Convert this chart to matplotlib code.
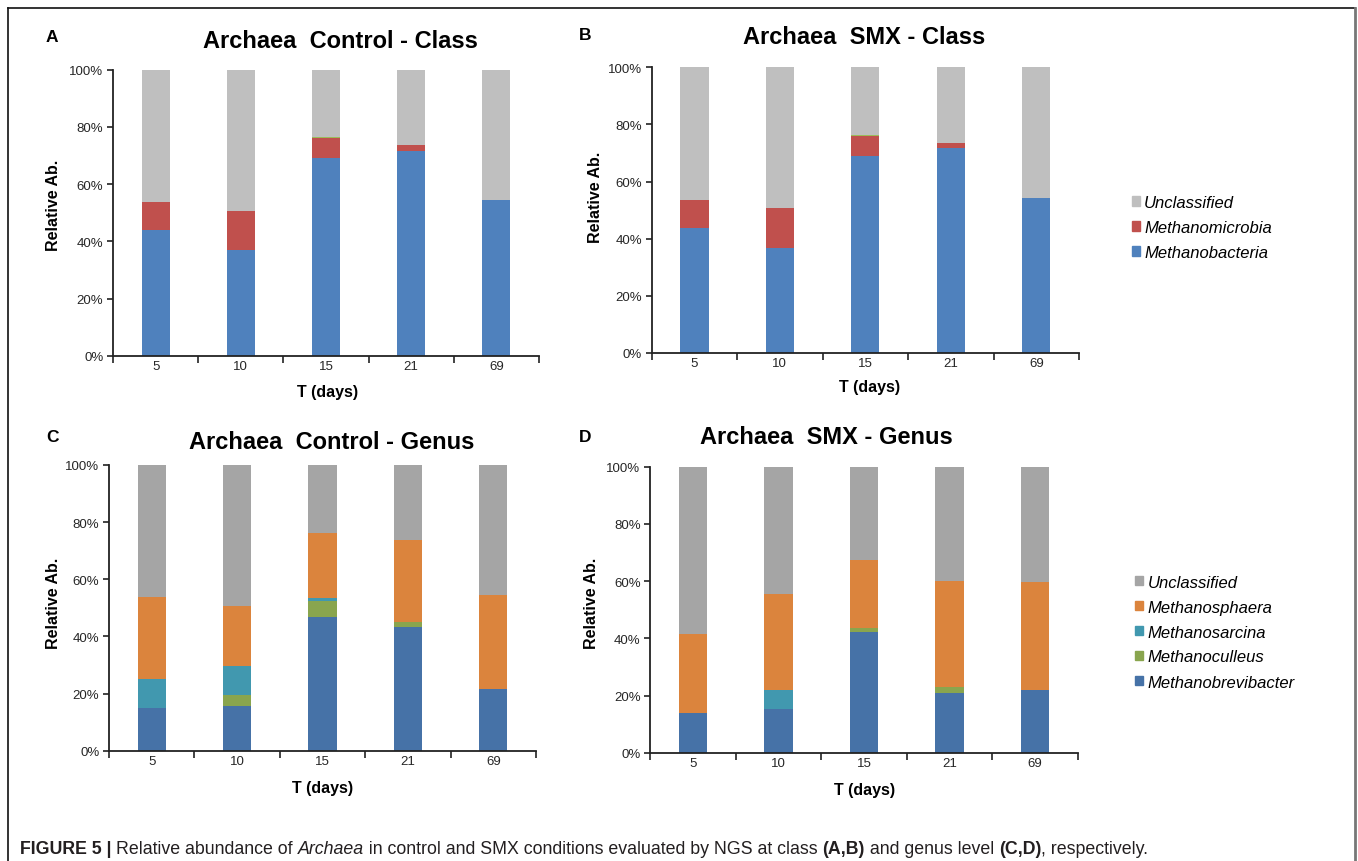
import matplotlib
matplotlib.use('Agg')

import matplotlib.pyplot as plt
from matplotlib.lines import Line2D
from matplotlib.patches import Patch
from matplotlib.ticker import FixedLocator, FuncFormatter
import numpy as np

plt.rcParams['font.family'] = ['Liberation Sans', 'DejaVu Sans']

days = ['5', '10', '15', '21', '69']

# class level (same in control and SMX), % per segment, bottom to top
methanobacteria = [43.8, 36.9, 69.1, 71.7, 54.3]
methanomicrobia = [9.9, 13.7, 6.9, 1.8, 0.0]
class_other = [0.0, 0.0, 0.3, 0.0, 0.0]
class_unclassified = [46.3, 49.4, 23.7, 26.5, 45.7]

# genus level, control
ctrl_methanobrevibacter = [14.9, 15.6, 46.8, 43.3, 21.6]
ctrl_methanoculleus = [0.0, 3.8, 5.5, 1.7, 0.0]
ctrl_methanosarcina = [10.1, 10.2, 1.1, 0.0, 0.0]
ctrl_methanosphaera = [28.8, 21.0, 22.8, 28.6, 32.9]
ctrl_unclassified = [46.2, 49.4, 23.8, 26.4, 45.5]

# genus level, SMX
smx_methanobrevibacter = [13.9, 15.4, 42.1, 21.0, 21.9]
smx_methanoculleus = [0.0, 0.0, 1.5, 2.1, 0.0]
smx_methanosarcina = [0.0, 6.4, 0.0, 0.0, 0.0]
smx_methanosphaera = [27.5, 33.6, 23.8, 36.9, 37.8]
smx_unclassified = [58.6, 44.6, 32.6, 40.0, 40.3]

class_labels = ['Methanobacteria', 'Methanomicrobia', '_other', 'Unclassified']
class_colors = ['#4F81BD', '#C0504D', '#9BBB59', '#BFBFBF']
genus_labels = ['Methanobrevibacter', 'Methanoculleus', 'Methanosarcina',
                'Methanosphaera', 'Unclassified']
genus_colors = ['#4672A7', '#89A54E', '#4198AF', '#DB843D', '#A5A5A5']


def draw_panel(ax, series, colors):
	x = np.arange(1, len(days) + 1)
	bottom = np.zeros(len(days))
	bars = []
	for s, c in zip(series, colors):
		s = np.array(s)
		b = ax.bar(x, s, 0.33, bottom=bottom, color=c, linewidth=0)
		bars.append(b)
		bottom += s
	ax.set_xlim(0.5, len(days) + 0.5)
	ax.set_ylim(0, 100)
	ax.set_yticks([0, 20, 40, 60, 80, 100])
	ax.yaxis.set_major_formatter(FuncFormatter(lambda v, p: '%d%%' % v))
	ax.xaxis.set_major_locator(FixedLocator(np.arange(0.5, len(days) + 1)))
	ax.xaxis.set_minor_locator(FixedLocator(x))
	ax.set_xticklabels([], minor=False)
	ax.set_xticklabels(days, minor=True)
	ax.tick_params(axis='x', which='major', direction='out', length=5, width=1.2, color='#222222')
	ax.tick_params(axis='x', which='minor', length=0, pad=3, labelsize=9.5, labelcolor='#262626')
	ax.tick_params(axis='y', direction='out', length=4, width=1.2, color='#222222',
	               labelsize=9.5, labelcolor='#262626', pad=3)
	for side in ['top', 'right']:
		ax.spines[side].set_visible(False)
	for side in ['left', 'bottom']:
		ax.spines[side].set_linewidth(1.3)
		ax.spines[side].set_color('#222222')
	return bars


W, H = 1358, 862
fig = plt.figure(figsize=(W / 100, H / 100), dpi=100)


def px_axes(l, r, t, b):
	return fig.add_axes([l / W, 1 - b / H, (r - l) / W, (b - t) / H])


axA = px_axes(113, 539, 70.7, 356.7)
axB = px_axes(651.7, 1079, 68.3, 354)
axC = px_axes(109, 536, 466, 751.7)
axD = px_axes(650.3, 1077.7, 467.7, 753.7)

class_series = [methanobacteria, methanomicrobia, class_other, class_unclassified]
barsA = draw_panel(axA, class_series, class_colors)
barsB = draw_panel(axB, class_series, class_colors)
barsC = draw_panel(axC, [ctrl_methanobrevibacter, ctrl_methanoculleus, ctrl_methanosarcina,
                         ctrl_methanosphaera, ctrl_unclassified], genus_colors)
barsD = draw_panel(axD, [smx_methanobrevibacter, smx_methanoculleus, smx_methanosarcina,
                         smx_methanosphaera, smx_unclassified], genus_colors)


def ftext(x, y, s, **kw):
	return fig.text(x / W, 1 - y / H, s, ha='center', va='center', **kw)


# panel letters
for (x, y, s) in [(52, 37, 'A'), (585, 35, 'B'), (52, 438, 'C'), (585, 438, 'D')]:
	ftext(x, y, s, fontsize=12.5, fontweight='bold')

# titles
ftext(340, 42, 'Archaea  Control - Class', fontsize=17, fontweight='bold')
ftext(864, 37, 'Archaea  SMX - Class', fontsize=17, fontweight='bold')
ftext(332, 443, 'Archaea  Control - Genus', fontsize=17, fontweight='bold')
ftext(826, 438, 'Archaea  SMX - Genus', fontsize=17, fontweight='bold')

# axis labels
for (x, y) in [(53, 205), (595, 197), (53, 603), (591, 603)]:
	ftext(x, y, 'Relative Ab.', fontsize=11.5, fontweight='bold', rotation=90)
for (x, y) in [(328, 393), (870, 388), (323, 789), (865, 791)]:
	ftext(x, y, 'T (days)', fontsize=11.5, fontweight='bold')

# legends
cls_handles = [Patch(color=class_colors[i]) for i in [3, 1, 0]]
cls_names = [class_labels[i] for i in [3, 1, 0]]
fig.legend(cls_handles, cls_names, loc='upper left', bbox_to_anchor=(1131.5 / W, 1 - 196 / H),
           frameon=False, borderpad=0, borderaxespad=0, handlelength=0.5, handleheight=0.5,
           handletextpad=0.25, labelspacing=0.6, prop={'size': 12, 'style': 'italic'})
gen_handles = [Patch(color=genus_colors[i]) for i in [4, 3, 2, 1, 0]]
gen_names = [genus_labels[i] for i in [4, 3, 2, 1, 0]]
fig.legend(gen_handles, gen_names, loc='upper left', bbox_to_anchor=(1135 / W, 1 - 575.5 / H),
           frameon=False, borderpad=0, borderaxespad=0, handlelength=0.5, handleheight=0.5,
           handletextpad=0.25, labelspacing=0.6, prop={'size': 12, 'style': 'italic'})

# frame around the figure
fig.add_artist(Line2D([8 / W, 8 / W], [0, 1 - 9 / H], color='#111111', lw=1.2))
fig.add_artist(Line2D([8 / W, 1355 / W], [1 - 9 / H, 1 - 9 / H], color='#111111', lw=1.2))
fig.add_artist(Line2D([1355 / W, 1355 / W], [0, 1 - 9 / H], color='#777777', lw=2))

# caption
caption = [('FIGURE 5 | ', 'bold', 'normal'),
           ('Relative abundance of ', 'normal', 'normal'),
           ('Archaea', 'normal', 'italic'),
           (' in control and SMX conditions evaluated by NGS at class ', 'normal', 'normal'),
           ('(A,B)', 'bold', 'normal'),
           (' and genus level ', 'normal', 'normal'),
           ('(C,D)', 'bold', 'normal'),
           (', respectively.', 'normal', 'normal')]
fig.canvas.draw()
r = fig.canvas.get_renderer()
xpos = 20
for s, wgt, sty in caption:
	t = fig.text(xpos / W, 1 - 850 / H, s, ha='left', va='center', fontsize=12.8,
	             fontweight=wgt, fontstyle=sty, color='#231F20')
	xpos += t.get_window_extent(renderer=r).width

fig.savefig('out.png', dpi=100)
